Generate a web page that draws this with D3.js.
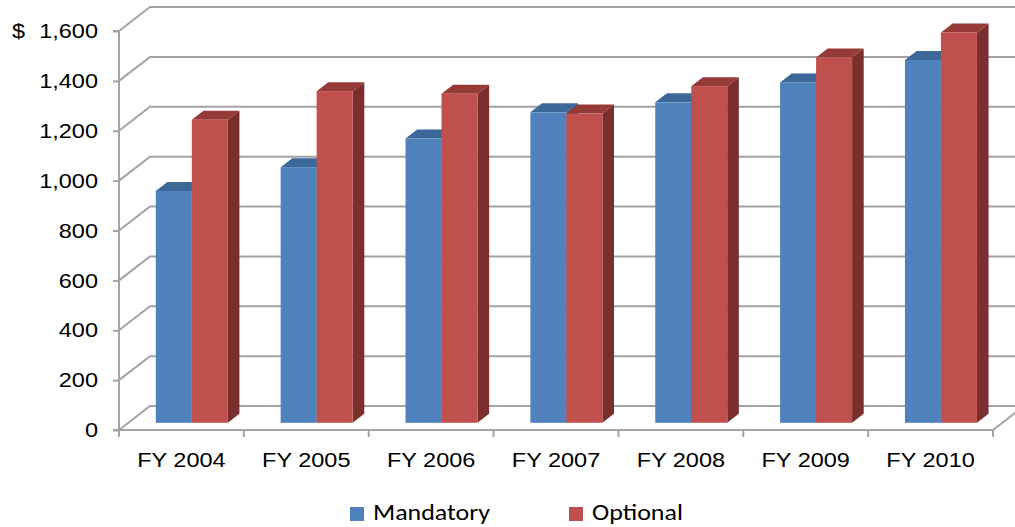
<!DOCTYPE html>
<html><head><meta charset="utf-8">
<script src="https://cdn.jsdelivr.net/npm/d3@7"></script>
<style>
html,body{margin:0;padding:0;background:#fff;}
svg{display:block;}
</style></head>
<body>
<svg id="chart" width="1015" height="527"></svg>
<script>
const categories = ["FY 2004","FY 2005","FY 2006","FY 2007","FY 2008","FY 2009","FY 2010"];
const seriesNames = ["Mandatory","Optional"];
const mandatory = [930, 1025, 1140, 1245, 1285, 1365, 1455];
const optional  = [1215, 1330, 1320, 1240, 1350, 1465, 1565];
const yTicks = [0,200,400,600,800,1000,1200,1400,1600];

(function(){
const svg = d3.select("#chart");
const W = 1015;
const pLeft = 119, pRight = 993, pBottom = 430, pTop = 31;
const depth = {dx: 31, dy: -24};
const d1 = 0.3, d2 = 0.675;
const colors = {
  Mandatory: {front:"#4F81BD", top:"#3C6898", side:"#2F5583"},
  Optional:  {front:"#C0504D", top:"#963A38", side:"#7A2F2E"}
};
const gridColor = "#A3A3A3";
const axisFont = "Arial, 'Liberation Sans', Arimo, Helvetica, sans-serif";
const kx = 1.12; // horizontal stretch of the reference text

const x = d3.scaleBand().domain(categories).range([pLeft, pRight]).paddingInner(0).paddingOuter(0);
const y = d3.scaleLinear().domain([0,1600]).range([pBottom, pTop]);
const xs = d3.scaleBand().domain(seriesNames).range([27.5, 99.5]).padding(0);

const grid = svg.append("g");
yTicks.forEach(v => {
  const yf = y(v);
  grid.append("path")
    .attr("d", `M${pLeft},${yf} L${pLeft+depth.dx},${yf+depth.dy} L${W+5},${yf+depth.dy}`)
    .attr("fill","none").attr("stroke",gridColor).attr("stroke-width",2);
});
grid.append("path")
  .attr("d", `M${pLeft},${pBottom} L${pRight},${pBottom} L${pRight+depth.dx},${pBottom+depth.dy}`)
  .attr("fill","none").attr("stroke",gridColor).attr("stroke-width",2);

const yAxis = svg.append("g")
  .attr("transform", `translate(${pLeft},0)`)
  .attr("font-family", axisFont)
  .call(d3.axisLeft(y).tickValues(yTicks).tickFormat(d3.format(",")).tickSize(6).tickPadding(15));
yAxis.attr("font-family", axisFont).attr("font-size", 21);
yAxis.select(".domain").attr("stroke",gridColor).attr("stroke-width",2).attr("d", `M-6,${y(1600)}H0V${pBottom}H-6`);
yAxis.selectAll(".tick line").attr("stroke",gridColor).attr("stroke-width",2);
yAxis.selectAll("text").attr("fill","#000")
  .attr("transform", `translate(-21,0) scale(${kx},1) translate(21,0)`);

svg.append("text").attr("x",12).attr("y",y(1600)).attr("dy","0.32em")
  .attr("font-family",axisFont).attr("font-size",21)
  .attr("transform", `translate(12,0) scale(${kx},1) translate(-12,0)`).text("$");

const xAxis = svg.append("g")
  .attr("transform", `translate(0,${pBottom})`)
  .call(d3.axisBottom(x).tickSize(0).tickPadding(22));
xAxis.attr("font-family", axisFont).attr("font-size", 21);
xAxis.select(".domain").remove();
xAxis.selectAll("text").attr("fill","#000").attr("transform", `scale(${kx},1)`);
const bounds = categories.map(c => x(c)).concat([x.range()[1]]);
svg.append("g").selectAll("line").data(bounds).join("line")
  .attr("x1", d=>d).attr("x2", d=>d).attr("y1", pBottom).attr("y2", pBottom+7)
  .attr("stroke",gridColor).attr("stroke-width",2);

const bars = [];
categories.forEach((c,i) => {
  bars.push({cat:c, s:"Mandatory", v:mandatory[i]});
  bars.push({cat:c, s:"Optional", v:optional[i]});
});
const gBars = svg.append("g");
const ox1 = depth.dx*d1, oy1 = depth.dy*d1;
const bdx = depth.dx*(d2-d1), bdy = depth.dy*(d2-d1);
bars.forEach(b => {
  const x0 = x(b.cat) + xs(b.s) + ox1;
  const w = xs.bandwidth();
  const y0 = y(0) + oy1, yt = y(b.v) + oy1;
  const col = colors[b.s];
  const g = gBars.append("g");
  g.append("path").attr("d", `M${x0+w},${y0} L${x0+w+bdx},${y0+bdy} L${x0+w+bdx},${yt+bdy} L${x0+w},${yt} Z`).attr("fill",col.side);
  g.append("path").attr("d", `M${x0},${yt} L${x0+bdx},${yt+bdy} L${x0+w+bdx},${yt+bdy} L${x0+w},${yt} Z`).attr("fill",col.top);
  g.append("rect").attr("x",x0).attr("y",yt).attr("width",w).attr("height",y0-yt).attr("fill",col.front);
});

const legend = svg.append("g");
const legX = [350, 569];
seriesNames.forEach((s,i) => {
  legend.append("rect").attr("x",legX[i]).attr("y",507).attr("width",14).attr("height",14).attr("fill",colors[s].front);
  const tx = legX[i]+23;
  legend.append("text").attr("x",tx).attr("y",520)
    .attr("font-family","Carlito, Calibri, Lato, sans-serif").attr("font-size",22).attr("fill","#000")
    .attr("transform", `translate(${tx},0) scale(1.18,1) translate(${-tx},0)`).text(s);
});
})();
</script>
</body></html>
